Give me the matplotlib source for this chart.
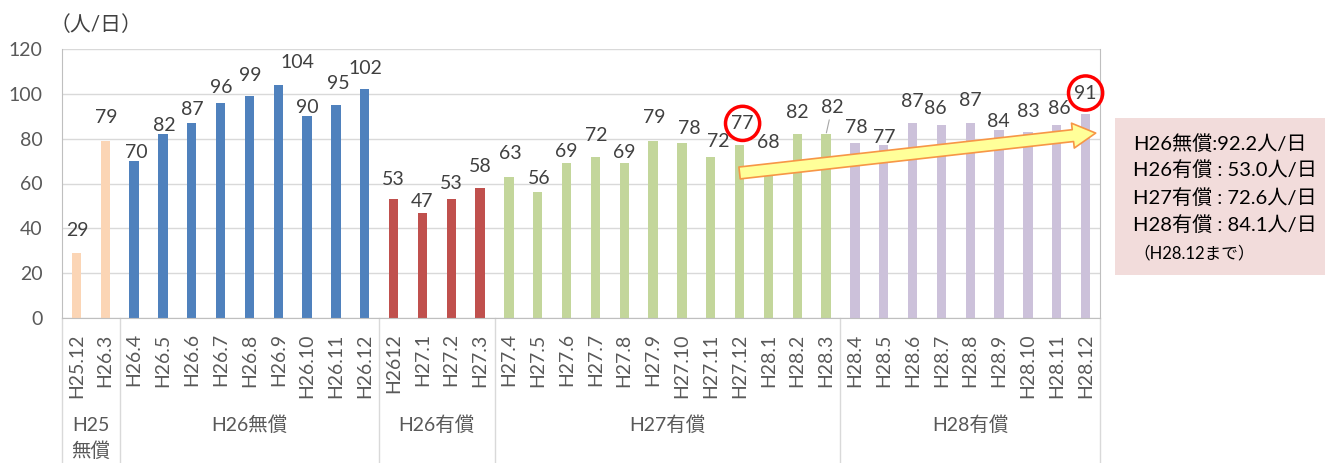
import matplotlib
matplotlib.use("Agg")
import matplotlib.pyplot as plt
from matplotlib.patches import Rectangle
import numpy as np

plt.rcParams['font.family'] = ['Lato', 'Noto Sans CJK JP', 'DejaVu Sans']

# monthly averages (people per day)
months = ["H25.12", "H26.3",
          "H26.4", "H26.5", "H26.6", "H26.7", "H26.8", "H26.9",
          "H26.10", "H26.11", "H26.12",
          "H2612", "H27.1", "H27.2", "H27.3",
          "H27.4", "H27.5", "H27.6", "H27.7", "H27.8", "H27.9",
          "H27.10", "H27.11", "H27.12", "H28.1", "H28.2", "H28.3",
          "H28.4", "H28.5", "H28.6", "H28.7", "H28.8", "H28.9",
          "H28.10", "H28.11", "H28.12"]
users = [29, 79,
         70, 82, 87, 96, 99, 104, 90, 95, 102,
         53, 47, 53, 58,
         63, 56, 69, 72, 69, 79, 78, 72, 77, 68, 82, 82,
         78, 77, 87, 86, 87, 84, 83, 86, 91]

groups = ["H25\n無償", "H26無償", "H26有償", "H27有償", "H28有償"]
group_sizes = [2, 9, 4, 12, 9]
group_colors = ["#FBD5B5", "#4F81BD", "#C0504D", "#C3D69B", "#CCC1DA"]

summary = ["H26無償:92.2人/日", "H26有償 : 53.0人/日",
           "H27有償 : 72.6人/日", "H28有償 : 84.1人/日"]
summary_note = "（H28.12まで）"

# hand-placed label nudges (pixels, from the bar top)
label_nudge = [(1, 22), (1, 23), (2, 9), (1, 9), (1, 13), (1, 15), (1, 21),
               (19, 22), (0, 9), (2, 22), (1, 21), (0, 20), (0, 11), (0, 16),
               (0, 21), (1, 23), (1, 14), (0, 12), (1, 21), (0, 11), (1, 23),
               (7, 15), (8, 15), (3, 22), (0, 23), (0, 22), (6, 27), (1, 16),
               (1, 8), (0, 21), (-6, 17), (0, 22), (-1, 8), (0, 20), (3, 17),
               (0, 21)]
circled = [23, 35]
leader = [26]

W, H = 1325, 463
fig = plt.figure(figsize=(W / 100, H / 100), dpi=100)
ax = fig.add_axes([62 / W, 145 / H, 1038 / W, 269 / H])

x = np.arange(len(months))
bar_colors = np.repeat(group_colors, group_sizes)
ax.bar(x, users, width=0.32, color=bar_colors, zorder=2)

ax.set_xlim(-0.5, len(months) - 0.5)
ax.set_ylim(0, 120)
ax.set_yticks(range(0, 121, 20))
ax.yaxis.grid(True, color="#D9D9D9", lw=1)
ax.set_axisbelow(True)
ax.tick_params(axis='y', length=0, pad=14, labelsize=14, labelcolor="#595959")
ax.set_xticks(x, months, rotation=90)
ax.tick_params(axis='x', length=0, pad=11, labelsize=14, labelcolor="#595959")
for side in ["left", "bottom", "right"]:
    ax.spines[side].set_color("#BFBFBF")
ax.spines["top"].set_visible(False)

# value labels
for i, v in enumerate(users):
    dx, dy = label_nudge[i]
    kw = {}
    if i in circled:
        kw["bbox"] = dict(boxstyle="circle,pad=0.3", fc="none", ec="#FF0000", lw=2.5)
    if i in leader:
        kw["arrowprops"] = dict(arrowstyle="-", color="#A6A6A6", lw=0.8,
                                shrinkA=1, shrinkB=1)
    ax.annotate(str(v), xy=(i, v), xytext=(dx, dy), textcoords="offset pixels",
                ha="center", va="center", fontsize=14, color="#404040",
                zorder=4, **kw)

# group separators and labels below the axis
trans = ax.get_xaxis_transform()
edges = np.concatenate([[0], np.cumsum(group_sizes)]) - 0.5
for e in edges:
    ax.plot([e, e], [0, -0.54], transform=trans, color="#D9D9D9", lw=1,
            clip_on=False)
for g, start, n in zip(groups, edges[:-1], group_sizes):
    cx = start + n / 2
    for k, line in enumerate(g.split("\n")):
        ax.text(cx, -0.398 - 0.093 * k, line, transform=trans, ha="center",
                va="center", fontsize=14, color="#595959")

# trend arrow
ax.annotate("", xy=(35.35, 82.5), xytext=(23.0, 64.7),
            arrowprops=dict(arrowstyle="simple,head_length=1.65,head_width=1.8,tail_width=0.86",
                            mutation_scale=10, fc="#FFFF99", ec="#F79646", lw=1.2,
                            shrinkA=0, shrinkB=0),
            zorder=3)

fig.text(50 / W, 1 - 25 / H, "（人/日）", ha="left", va="center", fontsize=15,
         color="#404040")

# summary box
fig.patches.append(Rectangle((1115 / W, 1 - 275 / H), (W - 1115) / W, 157 / H,
                             transform=fig.transFigure, fc="#F2DCDB", ec="none"))
for k, line in enumerate(summary):
    fig.text(1133 / W, 1 - (143 + 27.5 * k) / H, line, ha="left", va="center",
             fontsize=14.5, color="#000000")
fig.text(1133 / W, 1 - 253 / H, summary_note, ha="left", va="center",
         fontsize=12, color="#000000")

fig.savefig("out.png", dpi=100)
